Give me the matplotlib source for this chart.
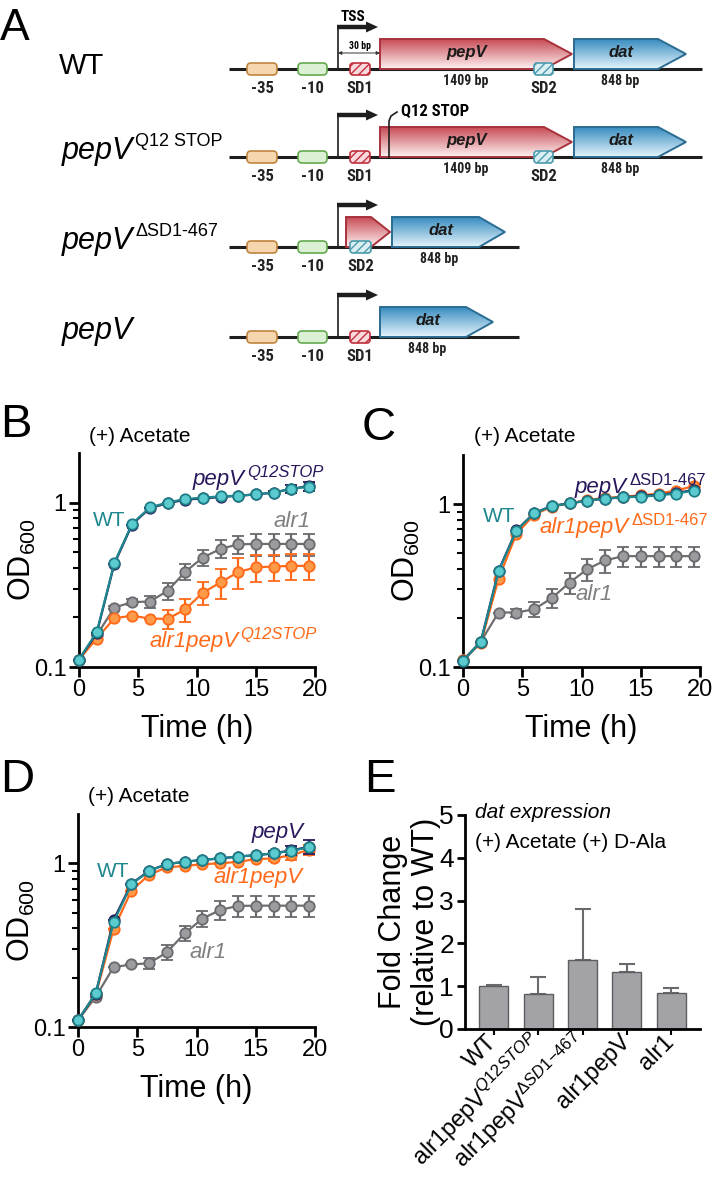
import numpy as np
import matplotlib
matplotlib.use('Agg')
import matplotlib.pyplot as plt
from matplotlib.patches import Polygon, FancyBboxPatch
from matplotlib.ticker import FixedLocator, NullFormatter
from matplotlib import font_manager

# ---------------- data ----------------
time_h = [0, 1.5, 3, 4.5, 6, 7.5, 9, 10.5, 12, 13.5, 15, 16.5, 18, 19.5]

# Panel B
b_wt = [0.111, 0.163, 0.431, 0.742, 0.933, 1.00, 1.05, 1.07, 1.09, 1.10, 1.12, 1.15, 1.21, 1.25]
b_pepv = [0.111, 0.160, 0.425, 0.735, 0.925, 0.99, 1.04, 1.06, 1.08, 1.10, 1.12, 1.15, 1.21, 1.26]
b_pepv_err = [0, 0, 0, 0, 0, 0, 0, 0, 0, 0, 0, 0.03, 0.06, 0.08]
b_alr1 = [0.111, 0.156, 0.230, 0.248, 0.250, 0.290, 0.379, 0.463, 0.523, 0.557, 0.56, 0.56, 0.56, 0.56]
b_alr1_err = [0, 0, 0.005, 0.01, 0.02, 0.033, 0.041, 0.05, 0.066, 0.072, 0.088, 0.088, 0.088, 0.088]
b_dbl = [0.111, 0.149, 0.198, 0.205, 0.197, 0.196, 0.224, 0.283, 0.327, 0.378, 0.404, 0.408, 0.412, 0.412]
b_dbl_err = [0, 0, 0, 0, 0, 0.026, 0.035, 0.046, 0.068, 0.079, 0.075, 0.075, 0.075, 0.075]

# Panel C
c_wt = [0.109, 0.143, 0.386, 0.687, 0.877, 0.972, 1.01, 1.05, 1.08, 1.10, 1.11, 1.13, 1.16, 1.21]
c_pepv = [0.109, 0.143, 0.390, 0.690, 0.880, 0.975, 1.01, 1.05, 1.08, 1.10, 1.12, 1.14, 1.17, 1.22]
c_dbl = [0.111, 0.140, 0.348, 0.655, 0.860, 0.965, 1.01, 1.06, 1.09, 1.11, 1.13, 1.16, 1.21, 1.29]
c_alr1 = [0.110, 0.143, 0.216, 0.216, 0.226, 0.265, 0.330, 0.399, 0.451, 0.479, 0.479, 0.479, 0.479, 0.479]
c_alr1_err = [0, 0, 0, 0.012, 0.023, 0.035, 0.048, 0.06, 0.075, 0.067, 0.067, 0.067, 0.067, 0.067]

# Panel D
d_wt = [0.110, 0.161, 0.436, 0.744, 0.898, 0.99, 1.02, 1.05, 1.07, 1.10, 1.12, 1.15, 1.19, 1.25]
d_pepv = [0.110, 0.160, 0.450, 0.750, 0.900, 0.99, 1.02, 1.05, 1.07, 1.10, 1.12, 1.15, 1.20, 1.26]
d_pepv_err = [0, 0, 0, 0, 0, 0, 0, 0, 0, 0, 0, 0.04, 0.08, 0.12]
d_dbl = [0.110, 0.158, 0.395, 0.680, 0.850, 0.945, 0.963, 0.986, 1.00, 1.02, 1.06, 1.07, 1.12, 1.21]
d_dbl_err = [0, 0, 0, 0, 0, 0, 0, 0, 0, 0, 0, 0.04, 0.07, 0.08]
d_alr1 = [0.110, 0.153, 0.232, 0.241, 0.245, 0.286, 0.373, 0.459, 0.519, 0.549, 0.551, 0.551, 0.551, 0.551]
d_alr1_err = [0, 0, 0, 0, 0.02, 0.03, 0.04, 0.05, 0.07, 0.08, 0.08, 0.08, 0.08, 0.08]

# Panel E
bar_labels = ['WT', r'alr1pepV$^{\mathit{Q12STOP}}$', r'alr1pepV$^{\mathit{ΔSD1{-}467}}$',
              'alr1pepV', 'alr1']
bar_values = [1.00, 0.82, 1.62, 1.34, 0.83]
bar_err_up = [0.03, 0.39, 1.19, 0.18, 0.13]

# ---------------- style ----------------
plt.rcParams['font.family'] = ['Liberation Sans', 'DejaVu Sans']
plt.rcParams['mathtext.fontset'] = 'custom'
plt.rcParams['mathtext.rm'] = 'Liberation Sans'
plt.rcParams['mathtext.it'] = 'Liberation Sans:italic'
plt.rcParams['mathtext.bf'] = 'Liberation Sans:bold'

names = {f.name for f in font_manager.fontManager.ttflist}
COND = next((n for n in ['Liberation Sans Narrow', 'Roboto Condensed'] if n in names), 'Liberation Sans')

W, H = 717, 1199
fig = plt.figure(figsize=(W / 100, H / 100), dpi=100)


def ax_px(l, t, r, b, **kw):
    return fig.add_axes([l / W, 1 - b / H, (r - l) / W, (b - t) / H], **kw)


ov = ax_px(0, 0, W, H, zorder=10)
ov.axis('off')

TEAL_L, TEAL_F, TEAL_E = '#1d878d', '#5ccbd0', '#1d7f86'
OR_L, OR_F, OR_E = '#ff6a1a', '#ff9a48', '#ff6a1a'
GR_L, GR_F, GR_E = '#6e6e70', '#9c9ca0', '#6a6a6e'
PURP = '#2a175c'
WT_TXT, PEPV_TXT, ALR_TXT, OR_TXT = '#1d878d', '#2a175c', '#808080', '#ff6a1a'

# ---------------- Panel A (diagram) ----------------
row_lines = [69, 157, 247, 337]
row_line_ext = [(229, 702), (229, 702), (229, 519), (229, 519)]
promoters = [(-35, 247, 277, '#f6d6ae', '#bf843e'), (-10, 298, 327, '#dcf1d3', '#64a950')]
sd_boxes = [[('SD1', 350, 370), ('SD2', 534, 553)],
            [('SD1', 350, 370), ('SD2', 534, 553)],
            [('SD2', 350, 371)],
            [('SD1', 350, 370)]]
genes = [[('pepV', 380, 544, 572, '1409 bp'), ('dat', 574, 658, 686, '848 bp')],
         [('pepV', 380, 544, 572, '1409 bp'), ('dat', 574, 658, 686, '848 bp')],
         [('', 346, 371, 390, ''), ('dat', 392, 479, 505, '848 bp')],
         [('dat', 380, 466, 493, '848 bp')]]
SD_STYLE = {'SD1': ('#fadadd', '#c0303c'), 'SD2': ('#dbeff3', '#4b9bab')}
GENE_STYLE = {'pepV': ((0.78, 0.30, 0.34), (1.0, 0.95, 0.95), '#a8323c'),
              '': ((0.78, 0.30, 0.34), (1.0, 0.95, 0.95), '#a8323c'),
              'dat': ((0.22, 0.55, 0.75), (0.90, 0.96, 0.99), '#2b6c93')}


def grad_poly(verts, top_rgb, bot_rgb, edge):
    poly = Polygon(verts, closed=True, fc='none', ec=edge, lw=1.4, zorder=4)
    ov.add_patch(poly)
    xs = [v[0] for v in verts]
    ys = [v[1] for v in verts]
    g = np.linspace(0, 1, 64)[:, None, None]
    img = np.array(top_rgb)[None, None, :] * (1 - g) + np.array(bot_rgb)[None, None, :] * g
    img = np.repeat(img, 2, axis=1)
    im = ov.imshow(img, extent=(min(xs), max(xs), max(ys), min(ys)), aspect='auto',
                   zorder=3, interpolation='bilinear')
    im.set_clip_path(poly)


for i, ly in enumerate(row_lines):
    x0, x1 = row_line_ext[i]
    ov.plot([x0, x1], [ly, ly], color='#1e1e1e', lw=2.2, zorder=2, solid_capstyle='butt')
    for lab, a, b, fc, ec in promoters:
        ov.add_patch(FancyBboxPatch((a, ly - 6), b - a, 12, boxstyle='round,pad=0,rounding_size=4',
                                    fc=fc, ec=ec, lw=1.2, zorder=5))
        ov.text((a + b) / 2, ly + 24, str(lab), ha='center', va='baseline', fontsize=12,
                fontweight='bold', family=COND, color='#222222')
    for name, gx0, gxb, gxt, size in genes[i]:
        top = ly - 30
        verts = [(gx0, top), (gxb, top), (gxt, ly - 15), (gxb, ly), (gx0, ly)]
        tc, bc, ec = GENE_STYLE[name]
        grad_poly(verts, tc, bc, ec)
        if name:
            ov.text((gx0 + gxb) / 2 + 5, ly - 12, name, ha='center', va='baseline', fontsize=12,
                    fontweight='bold', style='italic', color='#1a1a1a', zorder=6)
        if size:
            ov.text((gx0 + gxb) / 2 + 4, ly + 16, size, ha='center', va='baseline', fontsize=10,
                    fontweight='bold', family=COND, color='#222222')
    for lab, a, b in sd_boxes[i]:
        fc, ec = SD_STYLE[lab]
        ov.add_patch(FancyBboxPatch((a, ly - 6), b - a, 12, boxstyle='round,pad=0,rounding_size=3',
                                    fc=fc, ec=ec, lw=1.2, hatch='////', zorder=6))
        ov.text((a + b) / 2, ly + 24, lab, ha='center', va='baseline', fontsize=12,
                fontweight='bold', family=COND, color='#222222')
    # TSS bent arrow
    atop = ly - 42
    ov.plot([338, 338], [ly, atop], color='#1e1e1e', lw=1.2, zorder=7)
    ov.plot([337.4, 368], [atop, atop], color='#1e1e1e', lw=3.2, zorder=7, solid_capstyle='butt')
    ov.add_patch(Polygon([(366, atop - 5.5), (378, atop), (366, atop + 5.5)], closed=True,
                         fc='#1e1e1e', ec='none', zorder=7))

ov.text(353, 21, 'TSS', ha='center', va='baseline', fontsize=11, fontweight='bold', family=COND)
ov.annotate('', xy=(338, 53), xytext=(380, 53),
            arrowprops=dict(arrowstyle='<|-|>', lw=0.7, color='#333333', shrinkA=0, shrinkB=0,
                            mutation_scale=5))
ov.text(360, 49, '30 bp', ha='center', va='baseline', fontsize=7, fontweight='bold', family=COND)
ov.plot([389, 389, 391, 397], [157, 121, 116, 112], color='#1e1e1e', lw=1.2, zorder=7)
ov.text(401, 116, 'Q12 STOP', ha='left', va='baseline', fontsize=12, fontweight='bold', family=COND)


def sup_text(x, y, main, sup, color, fs, sfs, mstyle='italic', sstyle='italic', dy=0, dx=1.5, **kw):
    t = ov.text(x, y, main, color=color, fontsize=fs, style=mstyle, ha='left', va='baseline', **kw)
    if sup:
        ov.annotate(sup, xy=(1, 1), xycoords=t, xytext=(dx, dy), textcoords='offset points',
                    color=color, fontsize=sfs, style=sstyle, ha='left', va='top', **kw)
    return t


# row labels
ov.text(59, 74, 'WT', fontsize=21, ha='left', va='baseline')
sup_text(62, 159, 'pepV', 'Q12 STOP', 'black', 22, 13, sstyle='normal', dy=2)
sup_text(62, 249, 'pepV', 'ΔSD1-467', 'black', 22, 13, sstyle='normal', dy=2)
sup_text(62, 339, 'pepV', '', 'black', 22, 13)

# panel letters
ov.text(0, 40, 'A', fontsize=32, ha='left', va='baseline')
ov.text(0, 437, 'B', fontsize=34, ha='left', va='baseline')
ov.text(362, 440, 'C', fontsize=34, ha='left', va='baseline')
ov.text(0, 792, 'D', fontsize=34, ha='left', va='baseline')
ov.text(364, 792, 'E', fontsize=34, ha='left', va='baseline')


# ---------------- growth panels ----------------
def growth_axes(l, t, r, b):
    ax = ax_px(l, t, r, b)
    ax.set_yscale('log')
    ax.set_xlim(0, 20)
    ax.set_ylim(0.1, 2.0)
    ax.set_xticks([0, 5, 10, 15, 20])
    ax.set_yticks([0.1, 1], ['0.1', '1'])
    ax.yaxis.set_minor_locator(FixedLocator([0.2, 0.3, 0.4, 0.5, 0.6, 0.7, 0.8, 0.9]))
    ax.yaxis.set_minor_formatter(NullFormatter())
    for s in ['top', 'right']:
        ax.spines[s].set_visible(False)
    for s in ['left', 'bottom']:
        ax.spines[s].set_linewidth(2)
    ax.tick_params(which='major', length=7, width=2, labelsize=17, direction='out', pad=2)
    ax.tick_params(which='minor', length=4, width=1.5, direction='out')
    ax.set_xlabel('Time (h)', fontsize=22, labelpad=9)
    ax.set_ylabel('OD$_{600}$', fontsize=22, labelpad=-3)
    ax.patch.set_alpha(0)
    return ax


def series(ax, y, err, fill, edge, line, z):
    ax.errorbar(time_h, y, yerr=err, fmt='-o', color=line, mfc=fill, mec=edge, mew=1.3, ms=7.5,
                lw=1.6, elinewidth=1.6, capsize=4, capthick=1.6, ecolor=edge, zorder=z, clip_on=False)


axb = growth_axes(79, 453, 315, 667)
series(axb, b_alr1, b_alr1_err, GR_F, GR_E, GR_L, 3)
series(axb, b_dbl, b_dbl_err, OR_F, OR_E, OR_L, 4)
series(axb, b_pepv, b_pepv_err, PURP, PURP, PURP, 5)
series(axb, b_wt, None, TEAL_F, TEAL_E, TEAL_L, 6)

axc = growth_axes(463, 455, 700, 667)
series(axc, c_alr1, c_alr1_err, GR_F, GR_E, GR_L, 3)
series(axc, c_dbl, None, OR_F, OR_E, OR_L, 4)
series(axc, c_pepv, None, PURP, PURP, PURP, 5)
series(axc, c_wt, None, TEAL_F, TEAL_E, TEAL_L, 6)

axd = growth_axes(78, 814, 315, 1027)
series(axd, d_alr1, d_alr1_err, GR_F, GR_E, GR_L, 3)
series(axd, d_dbl, d_dbl_err, OR_F, OR_E, OR_L, 4)
series(axd, d_pepv, d_pepv_err, PURP, PURP, PURP, 5)
series(axd, d_wt, None, TEAL_F, TEAL_E, TEAL_L, 6)

# panel texts
for (x, y) in [(89, 442), (474, 442), (88, 802)]:
    ov.text(x, y, '(+) Acetate', fontsize=15, ha='left', va='baseline')

sup_text(193, 485, 'pepV', 'Q12STOP', PEPV_TXT, 16, 12, dy=3)
ov.text(93, 526, 'WT', fontsize=15, color=WT_TXT, ha='left', va='baseline')
ov.text(273, 527, 'alr1', fontsize=16, color=ALR_TXT, style='italic', ha='left', va='baseline')
sup_text(149, 647, 'alr1pepV', 'Q12STOP', OR_TXT, 16, 12, dy=3)

sup_text(575, 493, 'pepV', 'ΔSD1-467', PEPV_TXT, 16, 12, sstyle='normal', dy=3)
ov.text(483, 522, 'WT', fontsize=15, color=WT_TXT, ha='left', va='baseline')
sup_text(540, 533, 'alr1pepV', 'ΔSD1-467', OR_TXT, 16, 12, sstyle='normal', dy=3)
ov.text(575, 600, 'alr1', fontsize=16, color=ALR_TXT, style='italic', ha='left', va='baseline')

ov.text(252, 838, 'pepV', fontsize=16, color=PEPV_TXT, style='italic', ha='left', va='baseline')
ov.text(97, 877, 'WT', fontsize=15, color=WT_TXT, ha='left', va='baseline')
ov.text(213, 883, 'alr1pepV', fontsize=16, color=OR_TXT, style='italic', ha='left', va='baseline')
ov.text(190, 958, 'alr1', fontsize=16, color=ALR_TXT, style='italic', ha='left', va='baseline')

# ---------------- Panel E ----------------
axe = ax_px(465, 815, 700, 1029)
xpos = np.arange(len(bar_values))
axe.bar(xpos, bar_values, width=0.65, color='#a3a3a7', edgecolor='#5e5e62', lw=1.0, zorder=2)
axe.errorbar(xpos, bar_values, yerr=[np.zeros(len(bar_err_up)), bar_err_up], fmt='none',
             ecolor='#6a6a6e', elinewidth=1.5, capsize=6, capthick=1.5, zorder=1)
axe.set_xlim(-0.65, 4.65)
axe.set_ylim(0, 5)
axe.set_yticks([0, 1, 2, 3, 4, 5])
axe.set_xticks(xpos)
axe.set_xticklabels(bar_labels, rotation=45, ha='right', va='center', rotation_mode='anchor',
                    fontsize=17)
for s in ['top', 'right']:
    axe.spines[s].set_visible(False)
for s in ['left', 'bottom']:
    axe.spines[s].set_linewidth(2)
axe.tick_params(axis='y', length=6, width=2, labelsize=19, pad=2)
axe.tick_params(axis='x', length=4, width=1.5, pad=3)
axe.set_ylabel('Fold Change\n(relative to WT)', fontsize=22, labelpad=-1, linespacing=1.1)
axe.patch.set_alpha(0)
ov.text(475, 818, 'dat expression', fontsize=15, style='italic', ha='left', va='baseline')
ov.text(475, 848, '(+) Acetate (+) D-Ala', fontsize=15, ha='left', va='baseline')

ov.set_xlim(0, W)
ov.set_ylim(H, 0)
fig.savefig('out.png', dpi=100)
